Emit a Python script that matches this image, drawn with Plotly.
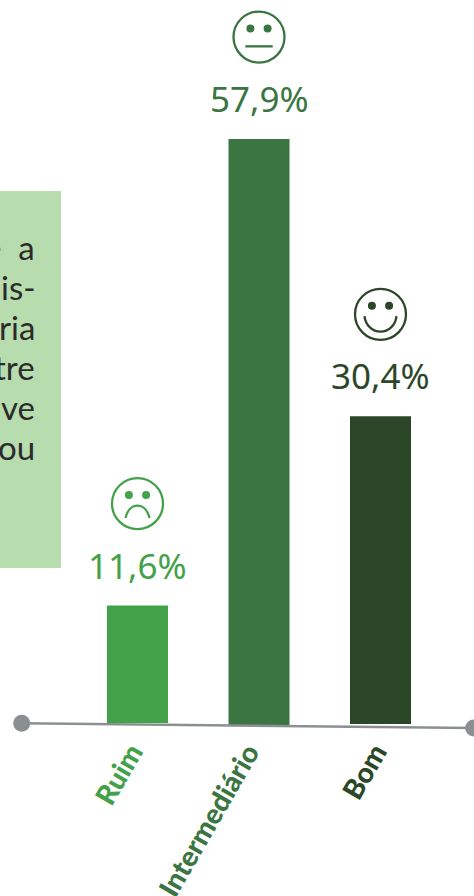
import plotly.graph_objects as go

# Survey result shares by rating
categories = ["Ruim", "Intermediário", "Bom"]
shares = [11.6, 57.9, 30.4]
share_labels = ["11,6%", "57,9%", "30,4%"]
bar_bases = [0.2, 0.0, 0.1]
colors = ["#43a14a", "#3a7542", "#2c4728"]
face_kinds = ["sad", "neutral", "happy"]

# Visible line endings of the side note, which runs off the page edge
note_lines = ["e\u00a0\u00a0a", "is-", "ria", "tre", "ve", "ou"]

# Slightly tilted baseline with a dot at either end
axis_x = [-0.953, 2.767]
axis_y = [0.17, -0.3]

W, H = 474, 896
VALUE_FONT = "Noto Sans"
NOTE_FONT = "Lato"
BAR_W = 61 / 121.5
PX_PER_UNIT_X = 121.5
PX_PER_UNIT_Y = 10.12
ZERO_X, ZERO_Y = 137.5, 725.0

FACE_CENTER = 102
FACE_R = 25.5
EYE_R = 4.0
LABEL_DX = [14, 9, 15.5]

# Mouth outlines in pixels relative to the face centre, y pointing up
MOUTHS = {
    "sad": [("M", -12, -14.5), ("C", -10, -6, -5, -2, 0, -2), ("C", 5, -2, 10, -6, 12, -14.5)],
    "neutral": [("M", -13.7, -9.3), ("L", 13.7, -9.3)],
    "happy": [("M", -16, -1.7), ("C", -15, -11, -8, -17.3, 0, -17.3), ("C", 8, -17.3, 15, -11, 16, -1.7)],
}


def mouth_path(kind, lift):
    parts = []
    for cmd, *coords in MOUTHS[kind]:
        vals = [c + lift if n % 2 else c for n, c in enumerate(coords)]
        parts.append(cmd + " " + " ".join(str(v) for v in vals))
    return " ".join(parts)


def circle(i, y_anchor, cx, cy, r, line=None, fill=None):
    """Circle sized in pixels around a point anchored on a bar."""
    return dict(
        type="circle", xref="x", yref="y",
        xsizemode="pixel", ysizemode="pixel",
        xanchor=i, yanchor=y_anchor,
        x0=cx - r, x1=cx + r, y0=cy - r, y1=cy + r,
        line=dict(color=line, width=2.3) if line else dict(width=0),
        fillcolor=fill or "rgba(0,0,0,0)",
    )


shapes = [
    dict(type="rect", xref="paper", yref="paper", layer="below",
         x0=0, x1=61 / W, y0=1 - 568 / H, y1=1 - 191 / H,
         fillcolor="#b7dcae", line=dict(width=0)),
]
annotations = []

for i, (val, base, col, kind) in enumerate(zip(shares, bar_bases, colors, face_kinds)):
    top = val + base
    shapes.append(circle(i, top, 0, FACE_CENTER, FACE_R, line=col))
    for side in (-1, 1):
        shapes.append(circle(i, top, side * 8.6, FACE_CENTER + 8.5, EYE_R, fill=col))
    shapes.append(dict(
        type="path", xref="x", yref="y",
        xsizemode="pixel", ysizemode="pixel", xanchor=i, yanchor=top,
        path=mouth_path(kind, FACE_CENTER),
        line=dict(color=col, width=2.3),
    ))
    annotations.append(dict(
        x=i, y=top, xref="x", yref="y", text=share_labels[i], showarrow=False,
        xanchor="center", yanchor="bottom", yshift=15,
        font=dict(family=VALUE_FONT, size=35, color=col),
    ))
    annotations.append(dict(
        x=i, y=0, xref="x", yref="y", text=categories[i], showarrow=False,
        textangle=-60, xanchor="right", yanchor="top",
        xshift=LABEL_DX[i], yshift=-10,
        font=dict(family=NOTE_FONT, size=28, color=col, weight=900),
    ))

for n, line in enumerate(note_lines):
    annotations.append(dict(
        x=37 / W, y=1 - (259 + 40 * n) / H, xref="paper", yref="paper",
        text=line, showarrow=False, xanchor="right", yanchor="bottom", yshift=-10,
        font=dict(family=NOTE_FONT, size=33, color="#2b2b2b"),
    ))

fig = go.Figure()
fig.add_bar(
    x=list(range(len(categories))), y=shares, base=bar_bases,
    width=BAR_W, marker=dict(color=colors, line=dict(width=0)),
    hoverinfo="skip",
)
fig.add_scatter(
    x=axis_x, y=axis_y, mode="lines+markers",
    line=dict(color="#8a8f92", width=2.6),
    marker=dict(color="#8a8f92", size=17),
    cliponaxis=False, hoverinfo="skip",
)

fig.update_layout(
    width=W, height=H, margin=dict(l=0, r=0, t=0, b=0),
    paper_bgcolor="white", plot_bgcolor="rgba(0,0,0,0)",
    showlegend=False, shapes=shapes, annotations=annotations,
    xaxis=dict(range=[-ZERO_X / PX_PER_UNIT_X, (W - ZERO_X) / PX_PER_UNIT_X], visible=False),
    yaxis=dict(range=[-(H - ZERO_Y) / PX_PER_UNIT_Y, ZERO_Y / PX_PER_UNIT_Y], visible=False),
)

fig.write_html("out.html", config=dict(displayModeBar=False))
